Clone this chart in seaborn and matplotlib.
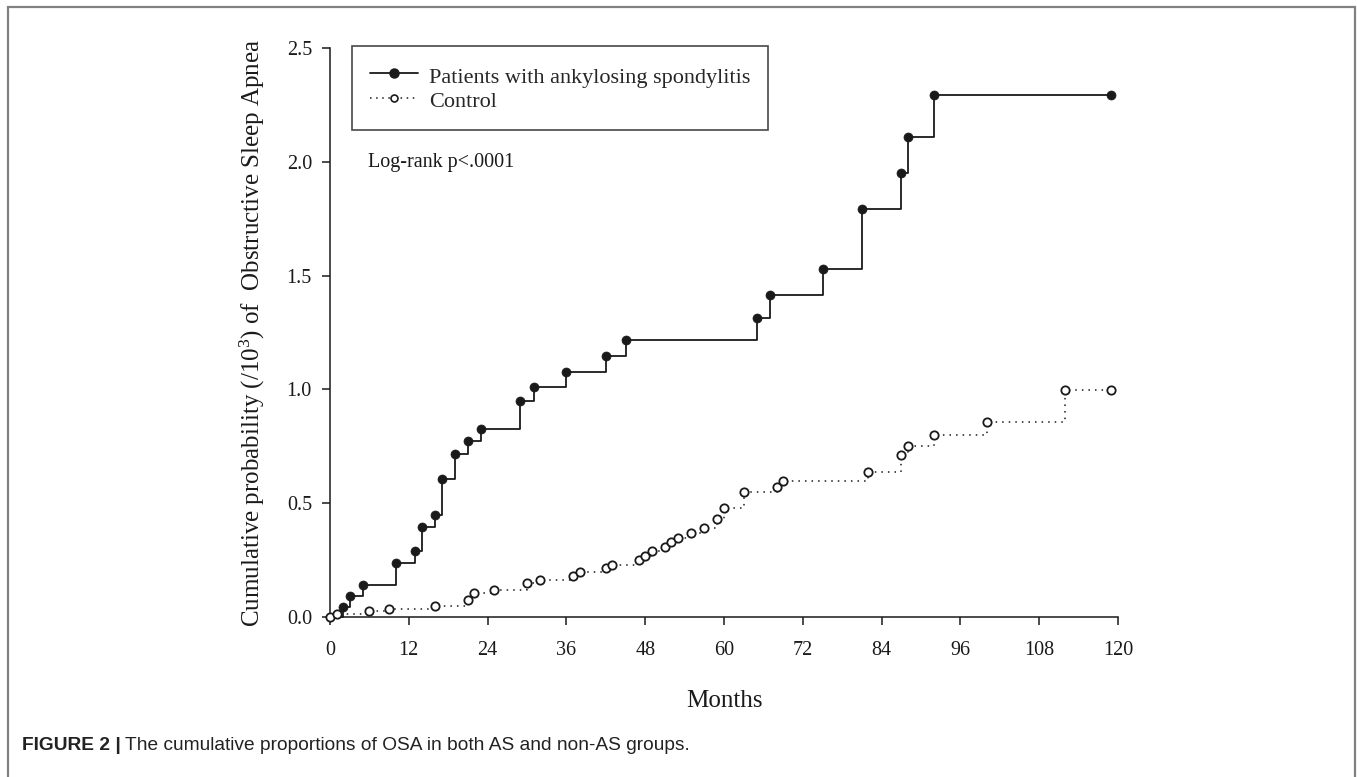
import matplotlib
matplotlib.use('Agg')
import numpy as np
import pandas as pd
import seaborn as sns
import matplotlib.pyplot as plt
from matplotlib.lines import Line2D
from matplotlib.patches import Rectangle

############ DATA

as_months = [0, 2, 3, 5, 10, 13, 14, 16, 17, 19, 21, 23, 29, 31, 36, 42, 45,
             65, 67, 75, 81, 87, 88, 92, 119]
as_cum = [0.0, 0.045, 0.092, 0.139, 0.239, 0.290, 0.395, 0.447, 0.606, 0.716,
          0.772, 0.827, 0.950, 1.010, 1.076, 1.145, 1.218, 1.315, 1.415, 1.529,
          1.794, 1.949, 2.108, 2.295, 2.295]

control_months = [0, 1, 6, 9, 16, 21, 22, 25, 30, 32, 37, 38, 42, 43, 47, 48,
                  49, 51, 52, 53, 55, 57, 59, 60, 63, 68, 69, 82, 87, 88, 92,
                  100, 112, 119]
control_cum = [0.0, 0.013, 0.026, 0.037, 0.050, 0.076, 0.104, 0.119, 0.149,
               0.164, 0.181, 0.196, 0.215, 0.230, 0.252, 0.269, 0.290, 0.308,
               0.328, 0.347, 0.369, 0.390, 0.432, 0.478, 0.548, 0.572, 0.599,
               0.636, 0.710, 0.751, 0.798, 0.855, 0.996, 0.996]

x_ticks = [0, 12, 24, 36, 48, 60, 72, 84, 96, 108, 120]
y_ticks = [0.0, 0.5, 1.0, 1.5, 2.0, 2.5]

as_label = 'Patients with ankylosing spondylitis'
control_label = 'Control'
pvalue_text = 'Log-rank p<.0001'
caption_bold = 'FIGURE 2 |'
caption_text = 'The cumulative proportions of OSA in both AS and non-AS groups.'

as_df = pd.DataFrame({'month': as_months, 'cum': as_cum})
ctl_df = pd.DataFrame({'month': control_months, 'cum': control_cum})

############ STYLE

sns.set_style('ticks')
plt.rcParams['font.family'] = ['Liberation Serif', 'DejaVu Serif']
plt.rcParams['mathtext.default'] = 'regular'

INK = '#1a1a1a'

fig = plt.figure(figsize=(13.57, 7.77), dpi=100)
ax = fig.add_axes([330 / 1357, 1 - 617 / 777, (1118 - 330) / 1357, (617 - 48) / 777])

############ CURVES

# AS: solid step line, filled dots at each event
sns.lineplot(data=as_df, x='month', y='cum', ax=ax, color=INK, lw=1.3,
             drawstyle='steps-post', sort=False, estimator=None, clip_on=False)
sns.scatterplot(data=as_df.iloc[1:], x='month', y='cum', ax=ax, color=INK,
                s=42, edgecolor=INK, linewidth=0.5, zorder=5, clip_on=False)

# control: dotted step line, open circles
sns.lineplot(data=ctl_df, x='month', y='cum', ax=ax, color=INK, lw=1.1,
             linestyle=(0, (1, 3.3)), drawstyle='steps-post', sort=False,
             estimator=None, clip_on=False)
sns.scatterplot(data=ctl_df, x='month', y='cum', ax=ax, facecolor='white',
                s=36, edgecolor=INK, linewidth=1.3, zorder=5, clip_on=False)

############ AXES

ax.set_xlim(0, 120)
ax.set_ylim(0, 2.5)
ax.set_xticks(x_ticks)
ax.set_yticks(y_ticks)
ax.set_yticklabels([f'{v:.1f}' for v in y_ticks])
ax.tick_params(axis='both', direction='out', length=6, width=1.1, colors=INK,
               labelsize=14.5)
ax.tick_params(axis='x', pad=11)
ax.tick_params(axis='y', pad=7)
sns.despine(ax=ax)
for side in ['left', 'bottom']:
    ax.spines[side].set_linewidth(1.1)
    ax.spines[side].set_color(INK)

ax.set_xlabel('Months', fontsize=18, labelpad=22, color=INK)
ax.set_ylabel('Cumulative probability (/10$^{3}$) of  Obstructive Sleep Apnea',
              fontsize=18, labelpad=14, color=INK)

ax.text(368 / 1357, 1 - 162 / 777, pvalue_text, transform=fig.transFigure,
        fontsize=14.5, color=INK, va='center', ha='left')

handles = [
    Line2D([], [], color=INK, lw=1.3, marker='o', markersize=6.5,
           markerfacecolor=INK, markeredgecolor=INK),
    Line2D([], [], color=INK, lw=1.1, linestyle=(0, (1, 3)), marker='o',
           markersize=5, markerfacecolor='white', markeredgecolor=INK,
           markeredgewidth=1.2),
]
leg = ax.legend(handles, [as_label, control_label], loc='upper left',
                bbox_to_anchor=(352 / 1357, 1 - 46 / 777),
                bbox_transform=fig.transFigure, frameon=True, fancybox=False,
                fontsize=16, handlelength=2.15, handletextpad=0.5,
                handleheight=1.25, borderpad=0.8, labelspacing=0.0,
                borderaxespad=0)
leg.get_frame().set_edgecolor(INK)
leg.get_frame().set_linewidth(1.2)

############ FIGURE FRAME + CAPTION

fig.patches.append(Rectangle((8 / 1357, -0.2), (1355 - 8) / 1357, 1.2 - 7 / 777,
                             transform=fig.transFigure, fill=False,
                             edgecolor='#808080', lw=1.6))

t1 = fig.text(22 / 1357, 1 - 745 / 777, caption_bold, fontsize=13.8,
              fontweight='bold', family=['Liberation Sans', 'DejaVu Sans'],
              color='#222222', va='center', ha='left')
fig.canvas.draw()
bb = t1.get_window_extent()
fig.text((bb.x1 + 4) / 1357, 1 - 745 / 777, caption_text, fontsize=13.8,
         family=['Liberation Sans', 'DejaVu Sans'], color='#222222',
         va='center', ha='left')

fig.savefig('out.png', dpi=100)
